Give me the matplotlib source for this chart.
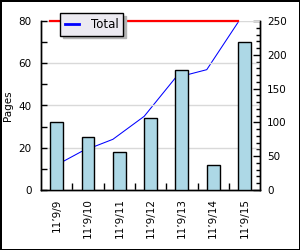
import matplotlib.pyplot as plt
import numpy as np
from matplotlib.ticker import MultipleLocator, FixedLocator

# -----------------------------------
# DATA
# -----------------------------------

dates = ["11\u20199/9", "11\u20199/10", "11\u20199/11", "11\u20199/12",
         "11\u20199/13", "11\u20199/14", "11\u20199/15"]
pages = [32, 25, 18, 34, 57, 12, 70]
total = [32, 57, 75, 109, 166, 178, 248]
limit = [80, 80, 80, 80, 80, 80, 80]

BAR_W = 0.41

# -----------------------------------
# PLOT
# -----------------------------------

fig = plt.figure(figsize=(3, 2.5), dpi=100)
fig.patch.set_facecolor("white")
fig.patch.set_edgecolor("black")
fig.patch.set_linewidth(2)

ax1 = fig.add_axes([0.137, 0.24, 0.73, 0.676])
ax2 = ax1.twinx()
ax1.set_zorder(2)
ax1.patch.set_visible(False)
ax2.set_zorder(1)
ax2.patch.set_facecolor("white")

x = np.arange(len(dates))

ax1.bar(x, pages, width=BAR_W, color="#add8e6",
        edgecolor="black", linewidth=1, zorder=3)
ax1.plot(x - BAR_W / 2, limit, color="red", linewidth=1.6,
         zorder=2, clip_on=False)
line, = ax2.plot(x - BAR_W / 2, total, color="blue", linewidth=0.75,
                 label="Total")

ax1.set_xlim(-0.5, len(dates) - 0.5)
ax1.set_ylim(0, 80)
ax2.set_ylim(0, 250)

ax1.set_xticks(x)
ax1.set_xticklabels(dates, rotation=90, fontsize=7.5)
ax1.xaxis.set_minor_locator(FixedLocator(x[:-1] + 0.5))
ax1.tick_params(axis="x", which="major", length=0, pad=6)
ax1.tick_params(axis="x", which="minor", direction="in", length=5,
                width=1)

ax1.yaxis.set_major_locator(MultipleLocator(20))
ax1.yaxis.set_minor_locator(MultipleLocator(10))
ax1.tick_params(axis="y", which="both", direction="in", length=4,
                width=1, labelsize=7.5, pad=7)

ax2.yaxis.set_major_locator(MultipleLocator(50))
ax2.yaxis.set_minor_locator(MultipleLocator(10))
ax2.tick_params(axis="y", which="major", direction="in", length=5,
                width=1, labelsize=7.5, pad=5)
ax2.tick_params(axis="y", which="minor", direction="in", length=3,
                width=1)

ax1.set_axisbelow(True)
ax1.grid(axis="y", color="#d9d9d9", linewidth=1)

for ax in (ax1, ax2):
    ax.spines["top"].set_visible(False)
    for s in ("left", "right", "bottom"):
        ax.spines[s].set_linewidth(1)

ax1.set_ylabel("Pages", fontsize=7.5, labelpad=4)

leg = ax1.legend(handles=[line], loc="upper left",
                 bbox_to_anchor=(0.087, 1.046), borderaxespad=0,
                 fontsize=8.5, fancybox=False, edgecolor="black",
                 facecolor="#eceaf1", framealpha=1, handlelength=1.2,
                 handletextpad=1.0, borderpad=0.4,
                 shadow={"color": "#b4b4b4", "alpha": 1})
leg.get_frame().set_linewidth(1)
for h in leg.get_lines():
    h.set_linewidth(2)

plt.savefig("out.png", dpi=100)
plt.close()
